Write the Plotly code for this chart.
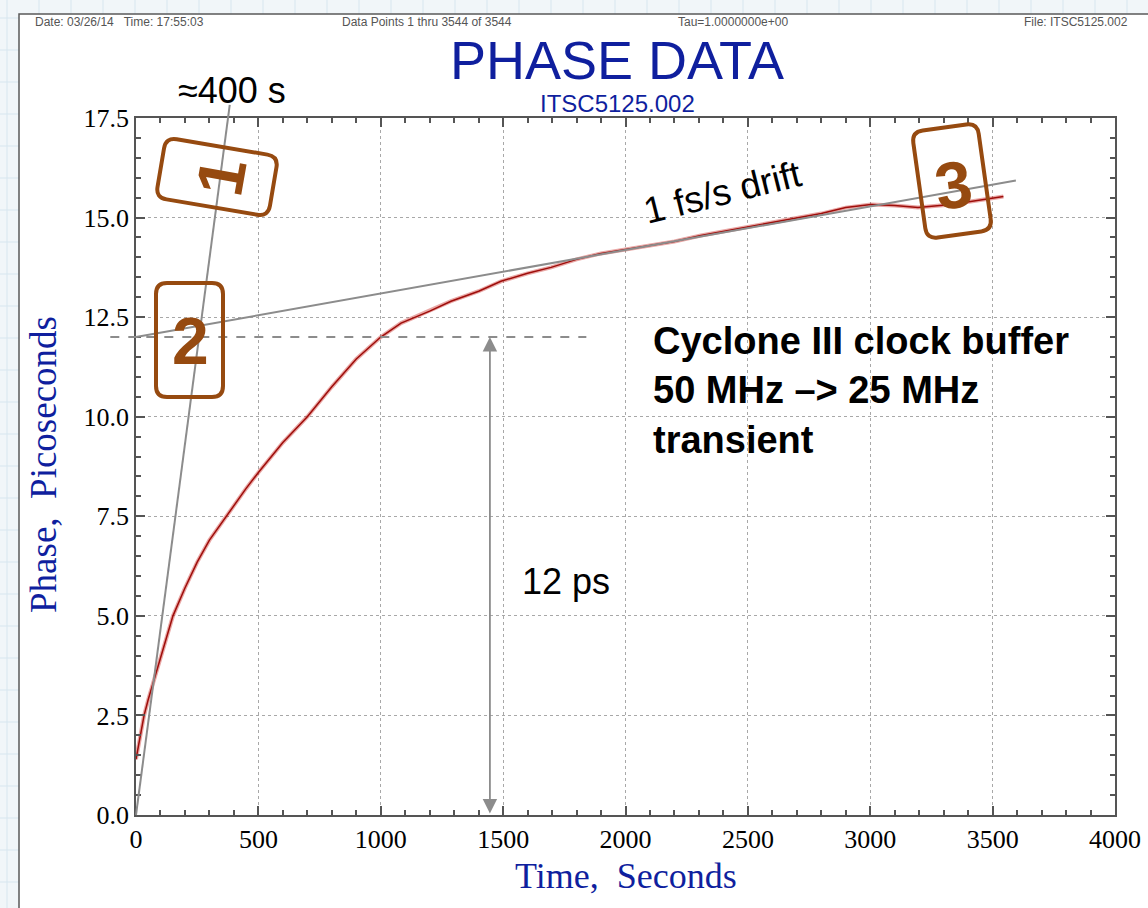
import math
import plotly.graph_objects as go

# ---- measured phase record (time in s, phase in ps) ----
time_s = [0, 15, 33, 50, 74, 100, 125, 151, 200, 250, 300, 368, 450, 500, 600,
          700, 800, 900, 1000, 1083, 1200, 1287, 1400, 1491, 1600, 1696, 1800,
          1900, 2000, 2100, 2200, 2308, 2400, 2513, 2600, 2717, 2800, 2900,
          3003, 3100, 3195, 3330, 3465, 3544]
phase_ps = [1.4, 1.9, 2.5, 2.9, 3.4, 4.0, 4.5, 5.0, 5.7, 6.35, 6.9, 7.5, 8.2,
            8.6, 9.35, 10.0, 10.75, 11.45, 12.0, 12.35, 12.65, 12.9, 13.15,
            13.4, 13.6, 13.75, 13.95, 14.1, 14.2, 14.3, 14.4, 14.55, 14.65,
            14.77, 14.88, 15.0, 15.1, 15.25, 15.33, 15.3, 15.25, 15.33, 15.45,
            15.53]

# ---- axis ticks ----
x_ticks = [0, 500, 1000, 1500, 2000, 2500, 3000, 3500, 4000]
y_ticks = [0.0, 2.5, 5.0, 7.5, 10.0, 12.5, 15.0, 17.5]
y_ticktext = ["0.0", "2.5", "5.0", "7.5", "10.0", "12.5", "15.0", "17.5"]

# ---- guide lines (time, phase) ----
initial_slope_line = [(0, 0.0), (383, 17.83)]
drift_line = [(0, 12.0), (3595, 15.93)]
transient_level = 12.0
transient_span = (-105, 1840)
arrow_time = 1446

X_MAX, Y_MAX = 4000.0, 17.5
W, H = 1148, 908
L, T, R, B = 136, 118, 33, 93
PW, PH = W - L - R, H - T - B


def d2p(t, v):
    """data -> paper fraction"""
    return t / X_MAX, v / Y_MAX


def px2p(x, y):
    """page pixel -> paper fraction"""
    return (x - L) / PW, (H - B - y) / PH


BROWN = "#964a10"
GREY = "#8c8c8c"
AXIS = "#555555"
BLUE = "#0f1f9e"

fig = go.Figure()

# fuzzy band under the trace
fig.add_trace(go.Scatter(x=time_s, y=phase_ps, mode="lines",
                         line=dict(color="rgba(200,35,30,0.4)", width=4),
                         hoverinfo="skip", showlegend=False))
fig.add_trace(go.Scatter(x=time_s, y=phase_ps, mode="lines",
                         line=dict(color="#9e0d0a", width=1.5),
                         showlegend=False))

shapes = []

# graph-paper backdrop around the white sheet
for gx in range(7, W + 40, 32):
    x0, _ = px2p(gx, 0)
    shapes.append(dict(type="line", xref="paper", yref="paper", layer="below",
                       x0=x0, x1=x0, y0=px2p(0, H)[1], y1=px2p(0, 0)[1],
                       line=dict(color="#d7e6ef", width=1)))
for gy in range(18, H + 40, 32):
    _, y0 = px2p(0, gy)
    shapes.append(dict(type="line", xref="paper", yref="paper", layer="below",
                       x0=px2p(0, 0)[0], x1=px2p(W, 0)[0], y0=y0, y1=y0,
                       line=dict(color="#d7e6ef", width=1)))
sx0, sy0 = px2p(19, 14)
sx1, sy1 = px2p(W + 20, H + 20)
shapes.append(dict(type="rect", xref="paper", yref="paper", layer="below",
                   x0=sx0, y0=sy1, x1=sx1, y1=sy0, fillcolor="white",
                   line=dict(color="#5a5a5a", width=1.5)))

# slope and drift guide lines
(a0, b0), (a1, b1) = [d2p(*p) for p in initial_slope_line]
shapes.append(dict(type="line", xref="paper", yref="paper", x0=a0, y0=b0,
                   x1=a1, y1=b1, line=dict(color=GREY, width=2)))
(a0, b0), (a1, b1) = [d2p(*p) for p in drift_line]
shapes.append(dict(type="line", xref="paper", yref="paper", x0=a0, y0=b0,
                   x1=a1, y1=b1, line=dict(color=GREY, width=2)))
a0, b0 = d2p(transient_span[0], transient_level)
a1, _ = d2p(transient_span[1], transient_level)
shapes.append(dict(type="line", xref="paper", yref="paper", x0=a0, y0=b0,
                   x1=a1, y1=b0, line=dict(color=GREY, width=2, dash="dash")))


def rounded_box(cx, cy, w, h, r, ang):
    c, s = math.cos(math.radians(ang)), math.sin(math.radians(ang))

    def p(lx, ly):
        X = cx + lx * c - ly * s
        Y = cy + lx * s + ly * c
        u, v = px2p(X, Y)
        return f"{u:.5f},{v:.5f}"

    hw, hh = w / 2, h / 2
    return (f"M{p(-hw + r, -hh)} L{p(hw - r, -hh)} Q{p(hw, -hh)} {p(hw, -hh + r)} "
            f"L{p(hw, hh - r)} Q{p(hw, hh)} {p(hw - r, hh)} "
            f"L{p(-hw + r, hh)} Q{p(-hw, hh)} {p(-hw, hh - r)} "
            f"L{p(-hw, -hh + r)} Q{p(-hw, -hh)} {p(-hw + r, -hh)} Z")


boxes = [  # (cx, cy, w, h, angle, label, text angle, label x, label y)
    (217, 177, 114, 61, 9.6, "1", -80, 221, 177),
    (189.5, 340, 67, 114, 0, "2", 0, 190, 341),
    (952, 181, 66, 108, -8, "3", -8, 953, 185),
]
annotations = []
for cx, cy, w, h, ang, lab, tang, lx, ly in boxes:
    shapes.append(dict(type="path", xref="paper", yref="paper",
                       path=rounded_box(cx, cy, w, h, 11, ang),
                       line=dict(color=BROWN, width=4)))
    ax_, ay_ = px2p(lx, ly)
    annotations.append(dict(xref="paper", yref="paper", x=ax_, y=ay_,
                            text=f"<b>{lab}</b>", showarrow=False,
                            textangle=tang, xanchor="center", yanchor="middle",
                            font=dict(family="Liberation Sans", size=66,
                                      color=BROWN)))

# 12 ps double arrow
annotations.append(dict(x=arrow_time, y=transient_level, ax=arrow_time, ay=0,
                        xref="x", yref="y", axref="x", ayref="y", text="",
                        showarrow=True, arrowside="end+start",
                        arrowhead=2, startarrowhead=2, arrowsize=1.6,
                        startarrowsize=1.6, arrowwidth=1.8, arrowcolor=GREY,
                        standoff=0, startstandoff=0))


def label(x, y, text, size, color="black", family="Liberation Sans",
          xanchor="center", yanchor="middle", angle=0, align="center"):
    u, v = px2p(x, y)
    annotations.append(dict(xref="paper", yref="paper", x=u, y=v, text=text,
                            showarrow=False, xanchor=xanchor, yanchor=yanchor,
                            textangle=angle, align=align,
                            font=dict(family=family, size=size, color=color)))


label(232, 91, "≈400 s", 36)
label(722, 192, "1 fs/s drift", 37, angle=-14)
label(566, 581, "12 ps", 36)
label(651, 390, "<b>Cyclone III clock buffer<br>50 MHz –> 25 MHz<br>transient</b>",
      38, xanchor="left", align="left")

# header
nb = "\u00a0"
label(33, 22, f"Date: 03/26/14{nb*3}Time: 17:55:03", 12, color="#555",
      xanchor="left")
label(340, 22, "Data Points 1 thru 3544 of 3544", 12, color="#555",
      xanchor="left")
label(676, 22, "Tau=1.0000000e+00", 12, color="#555", xanchor="left")
label(1130, 22, "File: ITSC5125.002", 12, color="#555", xanchor="right")
label(617, 60, "PHASE DATA", 54, color=BLUE)
label(617, 103, "ITSC5125.002", 24, color=BLUE)

# axis titles
label(44, 465, "Phase,  Picoseconds", 37, color=BLUE,
      family="Liberation Serif", angle=-90)
label(626, 876, "Time,  Seconds", 36, color=BLUE, family="Liberation Serif")

axis_common = dict(
    showline=True, linecolor=AXIS, linewidth=1.6, mirror="allticks",
    ticks="inside", ticklen=9, tickwidth=1.5, tickcolor=AXIS,
    showgrid=True, gridcolor="#a8a8a8", griddash="dot", gridwidth=1.3,
    zeroline=False, fixedrange=True,
    tickfont=dict(family="Liberation Serif", size=26, color="black"),
)

fig.update_xaxes(range=[0, X_MAX], tickvals=x_ticks,
                 minor=dict(dtick=100, ticks="inside", ticklen=5,
                            tickcolor=AXIS, showgrid=False),
                 **axis_common)
fig.update_yaxes(range=[0, Y_MAX], tickvals=y_ticks, ticktext=y_ticktext,
                 minor=dict(dtick=0.5, ticks="inside", ticklen=5,
                            tickcolor=AXIS, showgrid=False),
                 **axis_common)

fig.update_layout(
    width=W, height=H,
    margin=dict(l=L, r=R, t=T, b=B, autoexpand=False),
    paper_bgcolor="#f1f6f9", plot_bgcolor="white",
    shapes=shapes, annotations=annotations, showlegend=False,
)

fig.write_html("out.html")
